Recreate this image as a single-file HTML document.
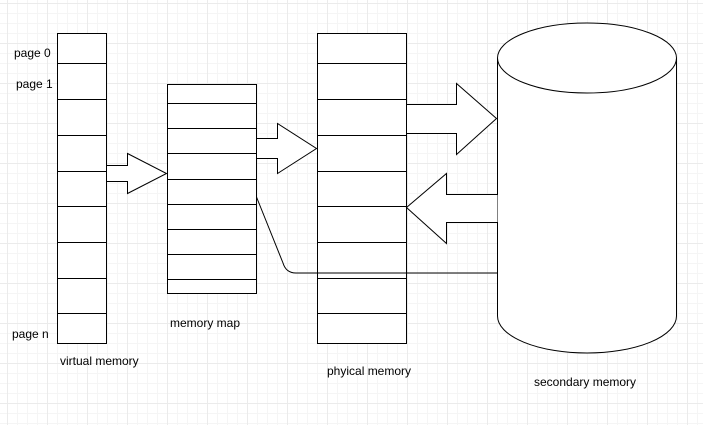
<!DOCTYPE html>
<html><head><style>
html,body{margin:0;padding:0;}
body{width:703px;height:425px;overflow:hidden;background:#fff;
background-image:linear-gradient(#ebebeb 1px,transparent 1px),linear-gradient(90deg,#ebebeb 1px,transparent 1px),linear-gradient(#f5f5f5 1px,transparent 1px),linear-gradient(90deg,#f5f5f5 1px,transparent 1px);
background-size:40px 40px,40px 40px,10px 10px,10px 10px;background-position:7px 3px,7px 3px,7px 3px,7px 3px;}
svg text{font-family:"Liberation Sans",sans-serif;font-size:12px;fill:#000;}
</style></head><body>
<svg width="703" height="425" xmlns="http://www.w3.org/2000/svg" style="position:absolute;left:0;top:0">
<g fill="#fff" stroke="#000" stroke-width="1">
<rect x="57.5" y="33.5" width="49" height="310"/>
<path d="M57 63.5H106M57 99.5H106M57 135.5H106M57 171.5H106M57 206.5H106M57 242.5H106M57 278.5H106M57 313.5H106"/>
<rect x="167.5" y="84.5" width="89" height="209"/>
<path d="M167 103.5H256M167 128.5H256M167 153.5H256M167 179.5H256M167 204.5H256M167 229.5H256M167 254.5H256M167 279.5H256"/>
<rect x="317.5" y="33.5" width="89" height="310"/>
<path d="M317 63.5H406M317 99.5H406M317 135.5H406M317 171.5H406M317 206.5H406M317 242.5H406M317 278.5H406M317 313.5H406"/>
<path d="M106.5 165.5H127.5V153.5L166.5 173.5L127.5 193.5V181.5H106.5Z"/>
<path d="M256.5 138.5H277.5V123.5L316.5 148.5L277.5 173.5V158.5H256.5Z"/>
<path d="M497.5 58 L497.5 316 A89.5 37 0 0 0 676.5 316 L676.5 58 A89.5 35 0 0 0 497.5 58 A89.5 35 0 0 0 676.5 58"/>
<path d="M406.5 104.5H456.5V83.5L496.5 118.5L456.5 154.5V133.5H406.5Z"/>
<path d="M497.5 194.5H446.5V173.5L406.5 207.5L446.5 243.5V222.5H497.5" />
<path d="M256.5 197 L283 263 Q286 273 296 273 H497" fill="none"/>
</g>
<text x="14" y="57">page 0</text>
<text x="16" y="88">page 1</text>
<text x="12" y="338">page n</text>
<text x="60" y="365">virtual memory</text>
<text x="170" y="327">memory map</text>
<text x="327" y="375">phyical memory</text>
<text x="534" y="386">secondary memory</text>
</svg>
</body></html>
